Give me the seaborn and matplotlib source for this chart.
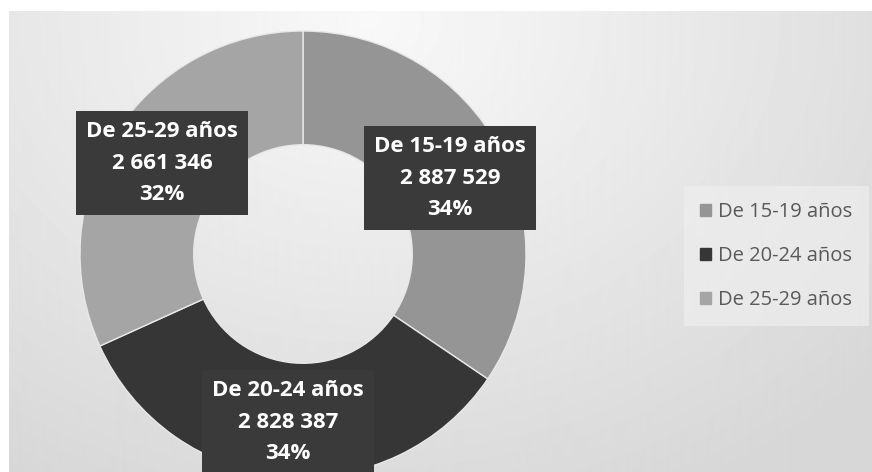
import numpy as np
import matplotlib
matplotlib.use('Agg')
import matplotlib.pyplot as plt
import seaborn as sns

groups = ['De 15-19 años', 'De 20-24 años', 'De 25-29 años']
counts = [2887529, 2828387, 2661346]
count_labels = ['2 887 529', '2 828 387', '2 661 346']
colors = ['#959595', '#363636', '#a5a5a5']

sns.set_theme(style='white')
plt.rcParams['font.family'] = ['Open Sans', 'DejaVu Sans']

W, H = 872, 472
fig = plt.figure(figsize=(W / 100, H / 100), dpi=100)
fig.patch.set_facecolor('white')

# soft grey gradient behind the chart
bg = fig.add_axes([9 / W, 0, 1 - 9 / W, 1 - 11 / H])
yy, xx = np.mgrid[0:461, 0:863]
d = np.sqrt(((xx - 360) / 560.0) ** 2 + ((yy - 10) / 440.0) ** 2)
shade = 0.975 - 0.11 * np.clip(d, 0, 1.2)
bg.imshow(shade, cmap='gray', vmin=0, vmax=1, aspect='auto', interpolation='bilinear')
bg.axis('off')

# donut: centre (303, 254) px, outer radius 223 px
cx, cy, r = 303, 254, 223
ax = fig.add_axes([(cx - r) / W, (H - cy - r) / H, 2 * r / W, 2 * r / H])
ax.pie(counts, colors=colors, startangle=90, counterclock=False, radius=1,
       wedgeprops=dict(width=0.51, edgecolor='#e8e8e8', linewidth=1))
ax.set_xlim(-1, 1)
ax.set_ylim(-1, 1)
ax.set_aspect('equal')
ax.axis('off')

total = sum(counts)
pcts = [f'{round(100 * c / total)}%' for c in counts]

# label boxes (pixel positions of text centres)
label_pos = [(450, 178), (288, 422), (162, 163)]
for (px, py), g, cl, p in zip(label_pos, groups, count_labels, pcts):
    fig.text(px / W, 1 - py / H, f'{g}\n{cl}\n{p}', ha='center', va='center',
             color='white', fontsize=16, fontweight='bold', linespacing=1.63,
             bbox=dict(boxstyle='square,pad=0.45', facecolor='#3a3a3a',
                       edgecolor='none'))

handles = [plt.Rectangle((0, 0), 1, 1, color=c) for c in colors]
leg = fig.legend(handles, groups, loc='center left',
                 bbox_to_anchor=(690 / W, 1 - 256 / H), frameon=True,
                 fontsize=14.5, handlelength=0.55, handleheight=0.55,
                 handletextpad=0.35, labelspacing=1.18, borderpad=0.5,
                 borderaxespad=0, labelcolor='#595959')
leg.get_frame().set_facecolor('#eeeeee')
leg.get_frame().set_edgecolor('none')
leg.get_frame().set_alpha(0.7)
leg.get_frame().set_boxstyle('square')

fig.savefig('out.png', dpi=100)
